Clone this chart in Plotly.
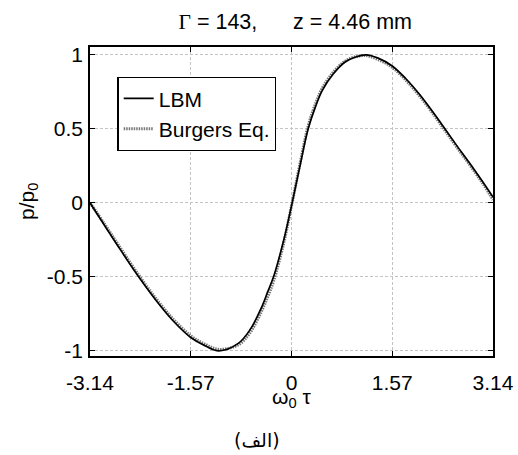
import plotly.graph_objects as go

# Normalised pressure waveform over one period (omega_0 * tau)
omega_tau = [-3.14, -2.91, -2.70, -2.39, -2.11, -1.85, -1.57, -1.35, -1.13, -0.83,
             -0.65, -0.47, -0.37, -0.28, -0.12, 0.01, 0.13, 0.26, 0.37, 0.48,
             0.65, 0.83, 1.00, 1.16, 1.35, 1.57, 1.79, 2.00, 2.235, 2.39,
             2.57, 2.78, 2.99, 3.14]

p_lbm = [0.00, -0.155, -0.295, -0.495, -0.66, -0.795, -0.91, -0.965, -1.00, -0.95,
         -0.86, -0.71, -0.60, -0.50, -0.25, 0.00, 0.245, 0.50, 0.645, 0.76,
         0.87, 0.95, 0.985, 1.00, 0.978, 0.925, 0.835, 0.73, 0.595, 0.50,
         0.39, 0.265, 0.135, 0.04]

p_burgers = [0.00, -0.145, -0.283, -0.483, -0.648, -0.783, -0.898, -0.955, -0.99, -0.96,
             -0.88, -0.735, -0.635, -0.53, -0.27, 0.00, 0.26, 0.52, 0.665, 0.775,
             0.882, 0.956, 0.988, 0.995, 0.968, 0.915, 0.825, 0.72, 0.585, 0.49,
             0.38, 0.255, 0.125, 0.02]

x_ticks = [-3.14, -1.57, 0, 1.57, 3.14]
x_tick_labels = ["-3.14", "-1.57", "0", "1.57", "3.14"]
y_ticks = [-1, -0.5, 0, 0.5, 1]
y_tick_labels = ["-1", "-0.5", "0", "0.5", "1"]

FONT = "Liberation Sans, Arial, sans-serif"
FS = 21

fig = go.Figure()
fig.add_trace(go.Scatter(
    x=omega_tau, y=p_burgers, mode="lines", name="Burgers Eq.",
    line=dict(color="#777777", width=3, dash="1.5px,1px", shape="spline", smoothing=1.0),
    legendrank=2,
))
fig.add_trace(go.Scatter(
    x=omega_tau, y=p_lbm, mode="lines", name="LBM",
    line=dict(color="black", width=1.7, shape="spline", smoothing=1.0),
    legendrank=1,
))

axis_common = dict(
    automargin=False,
    showline=True, linecolor="black", linewidth=1.6, mirror="ticks",
    ticks="inside", ticklen=5, tickcolor="black", tickwidth=1,
    showgrid=True, gridcolor="#c4c4c4", gridwidth=1, griddash="3px,2px",
    zeroline=False, tickfont=dict(family=FONT, size=FS, color="black"),
)

fig.update_xaxes(range=[-3.14, 3.14], tickvals=x_ticks, ticktext=x_tick_labels,
                 ticklabelstandoff=7, **axis_common)
fig.update_yaxes(range=[-1.035, 1.053], tickvals=y_ticks, ticktext=y_tick_labels,
                 ticklabelstandoff=1, **axis_common)

nb = "\u00a0"
fig.update_layout(
    width=518, height=455,
    margin=dict(l=90, r=25, t=47, b=99),
    paper_bgcolor="white", plot_bgcolor="white",
    font=dict(family=FONT, size=FS, color="black"),
    title=dict(
        text='<span style="font-family:Liberation Serif">Γ</span> = 143,' + nb * 6 + "z = 4.46 mm",
        x=0.57, xanchor="center", y=1 - 21 / 455, yanchor="middle",
        font=dict(family=FONT, size=21.5, color="black"),
    ),
    showlegend=True,
    legend=dict(
        x=0.068, y=0.903, xanchor="left", yanchor="top",
        bgcolor="white", bordercolor="black", borderwidth=1.3,
        font=dict(family=FONT, size=FS, color="black"),
        tracegroupgap=0,
    ),
    annotations=[
        dict(text="ω<sub>0</sub> τ", xref="paper", yref="paper",
             x=0.5, y=(356 - 398) / 309, xanchor="center", yanchor="middle",
             showarrow=False, font=dict(family=FONT, size=FS)),
        dict(text="p/p<sub>0</sub>", xref="paper", yref="paper",
             x=(28 - 90) / 403, y=(356 - 202) / 309, xanchor="center", yanchor="middle",
             textangle=-90, showarrow=False, font=dict(family=FONT, size=FS)),
        dict(text="(الف)", xref="paper", yref="paper",
             x=(256.5 - 90) / 403, y=(356 - 440) / 309, xanchor="center", yanchor="middle",
             showarrow=False, font=dict(family="DejaVu Sans, Noto Sans", size=19)),
    ],
)

fig.write_html("out.html")
